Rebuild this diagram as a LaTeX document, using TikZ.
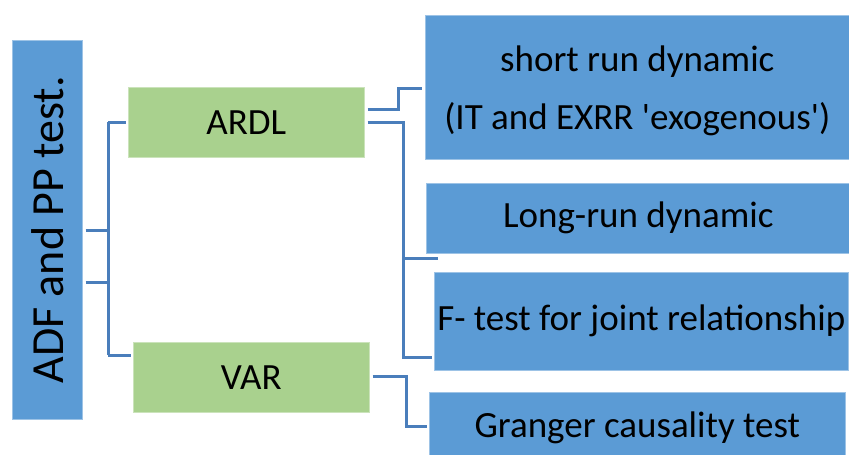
\documentclass[tikz,border=0pt]{standalone}
\usepackage{fontspec}
\setmainfont{Carlito}
\definecolor{boxblue}{RGB}{91,155,213}
\definecolor{boxgreen}{RGB}{169,209,142}
\definecolor{connblue}{RGB}{74,126,187}
\begin{document}
\begin{tikzpicture}[x=1pt,y=-1pt,
  bluebox/.style={draw=boxblue!60!white, line width=0.6pt, fill=boxblue, inner sep=0pt, anchor=north west,
    font=\fontsize{37}{58}\selectfont, align=center},
  greenbox/.style={draw=boxgreen!60!white, line width=0.6pt, fill=boxgreen, inner sep=0pt, anchor=north west,
    font=\fontsize{37}{44}\selectfont, align=center},
  conn/.style={draw=connblue, line width=3pt}]
\useasboundingbox (0,0) rectangle (849,455);
\node[bluebox, minimum width=70pt, minimum height=379pt] (adf) at (12,40) {};
\node[rotate=90, font=\fontsize{46}{50}\selectfont] (adft) at (adf.center) {ADF and PP test.};
\node[greenbox, minimum width=236pt, minimum height=70pt] (ardl) at (128,87) {ARDL};
\node[greenbox, minimum width=236pt, minimum height=70pt] (var) at (133,342) {VAR};
\node[bluebox, minimum width=424pt, minimum height=144pt] (b1) at (425,15) {};
\node[font=\fontsize{37}{58}\selectfont, align=center] (b1t) at ([yshift=-4pt]b1.center) {short run dynamic\\(IT and EXRR \textquotesingle exogenous\textquotesingle)};
\node[bluebox, minimum width=424pt, minimum height=70pt] (b2) at (426,183) {Long-run dynamic};
\node[bluebox, minimum width=414pt, minimum height=98pt] (b3) at (434,272) {F- test for joint relationship};
\node[bluebox, minimum width=416pt, minimum height=72pt] (b4) at (429,392) {Granger causality test};
% left trunk
\coordinate (t1) at (108,230);
\coordinate (t2) at (108,282);
\coordinate (ta) at (108,122);
\coordinate (tv) at (108,355);
\draw[conn] ([xshift=3pt]adf.east |- t1) -- (t1);
\draw[conn] ([xshift=3pt]adf.east |- t2) -- (t2);
\draw[conn] (ta) -- (tv);
\draw[conn] (ta) -- ([xshift=-2pt]ardl.west |- ta);
\draw[conn] (tv) -- ([xshift=-2pt]var.west |- tv);
% ARDL branches
\coordinate (r1) at (398,109);
\coordinate (r1b) at (398,88);
\draw[conn] ([xshift=3pt]ardl.east |- r1) -- (r1) -- (r1b) -- ([xshift=-3pt]b1.west |- r1b);
\coordinate (r2) at (403,122);
\coordinate (r2b) at (403,258);
\coordinate (r2c) at (403,357);
\draw[conn] ([xshift=3pt]ardl.east |- r2) -- (r2) -- (r2c) -- ([xshift=-2pt]b3.west |- r2c);
\draw[conn] (r2b) -- ([xshift=12pt]b2.west |- r2b);
% VAR branch
\coordinate (v1) at (406,376);
\coordinate (v2) at (406,426);
\draw[conn] ([xshift=3pt]var.east |- v1) -- (v1) -- (v2) -- ([xshift=-2pt]b4.west |- v2);
\end{tikzpicture}
\end{document}
